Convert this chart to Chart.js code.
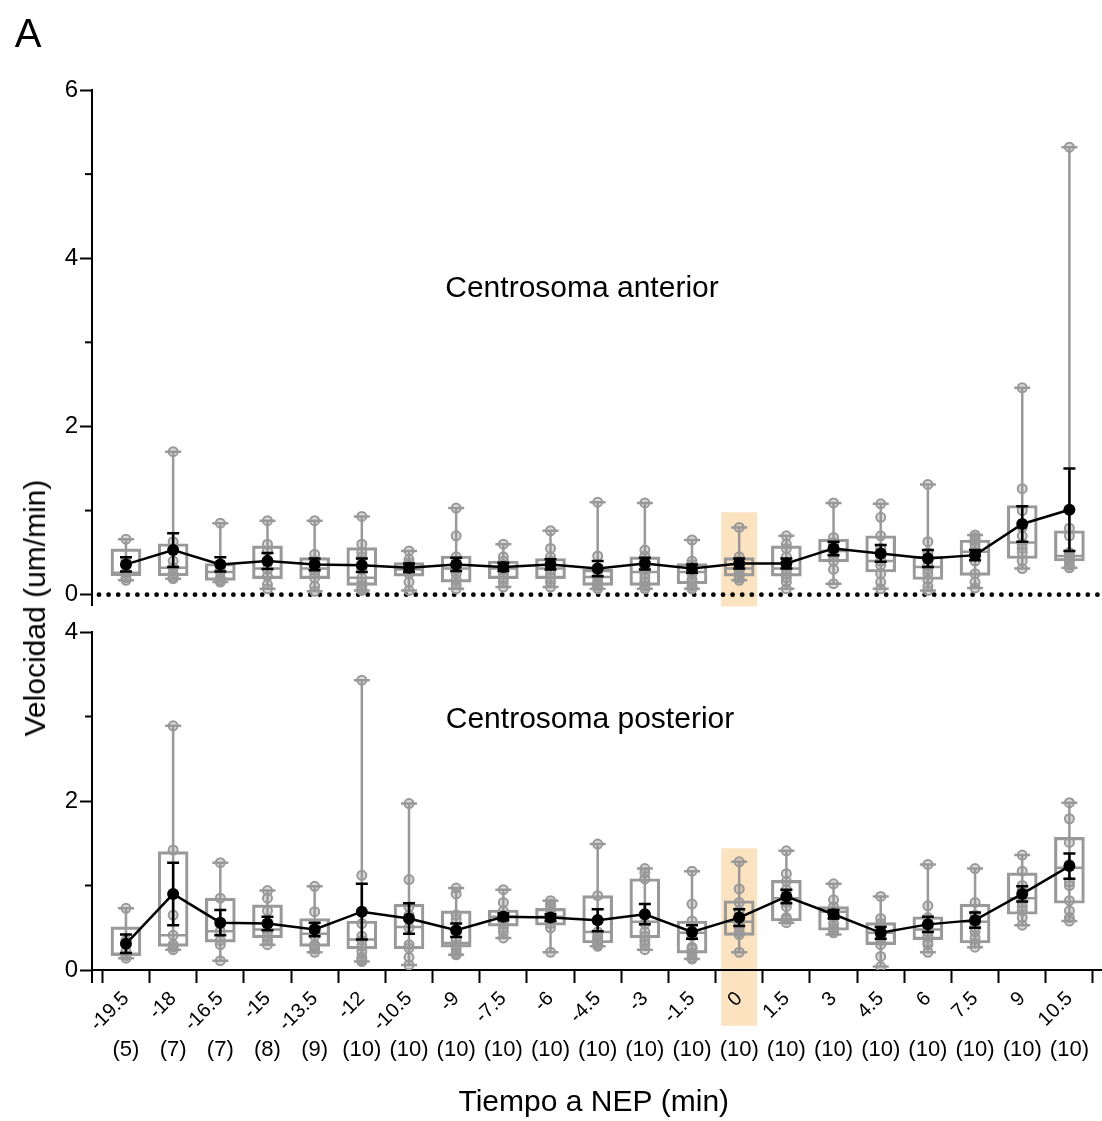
<!DOCTYPE html>
<html>
<head>
<meta charset="utf-8">
<script src="https://cdn.jsdelivr.net/npm/chart.js@4.4.1/dist/chart.umd.min.js"></script>
<style>
body{margin:0;background:#fff;width:1102px;height:1121px;position:relative;overflow:hidden;font-family:"Liberation Sans",Arial,sans-serif}
.wrap{position:absolute;left:0;width:1102px}
#topWrap{top:0;height:622px}
#botWrap{top:600px;height:521px}
.lbl{position:absolute;color:#000;white-space:nowrap;transform:translate(-50%,-50%)}
</style>
</head>
<body>
<div class="wrap" id="topWrap"><canvas id="topChart"></canvas></div>
<div class="wrap" id="botWrap"><canvas id="botChart"></canvas></div>
<div class="lbl" style="left:28px;top:33px;font-size:40px">A</div>
<div class="lbl" style="left:582px;top:287px;font-size:30px">Centrosoma anterior</div>
<div class="lbl" style="left:590px;top:718px;font-size:30px">Centrosoma posterior</div>
<div class="lbl" style="left:35px;top:608px;font-size:30px;transform:translate(-50%,-50%) rotate(-90deg)">Velocidad (um/min)</div>
<script>
// time to NEP (min) and number of cells
const times = [-19.5,-18,-16.5,-15,-13.5,-12,-10.5,-9,-7.5,-6,-4.5,-3,-1.5,0,1.5,3,4.5,6,7.5,9,10.5];
const nCells = [5,7,7,8,9,10,10,10,10,10,10,10,10,10,10,10,10,10,10,10,10];
const highlightAt = 0;

// centrosoma anterior
const antMin = [0.17,0.19,0.15,0.07,0.04,0.05,0.05,0.07,0.09,0.09,0.07,0.07,0.07,0.17,0.07,0.13,0.07,0.05,0.08,0.31,0.32];
const antQ1  = [0.225,0.225,0.17,0.19,0.19,0.11,0.22,0.15,0.19,0.19,0.11,0.11,0.13,0.22,0.22,0.39,0.27,0.18,0.23,0.43,0.40];
const antMed = [0.26,0.32,0.27,0.31,0.31,0.20,0.30,0.31,0.31,0.31,0.21,0.27,0.27,0.31,0.31,0.52,0.40,0.33,0.51,0.62,0.46];
const antQ3  = [0.545,0.605,0.37,0.58,0.44,0.56,0.38,0.46,0.40,0.43,0.30,0.45,0.37,0.44,0.58,0.66,0.70,0.46,0.65,1.06,0.76];
const antMax = [0.66,1.70,0.85,0.88,0.88,0.93,0.52,1.03,0.60,0.76,1.10,1.09,0.65,0.80,0.70,1.09,1.08,1.31,0.71,2.46,5.32];
const antMean = [0.36,0.53,0.36,0.40,0.36,0.35,0.32,0.36,0.33,0.36,0.31,0.37,0.31,0.37,0.37,0.55,0.49,0.43,0.47,0.84,1.01];
const antSem  = [0.085,0.2,0.085,0.095,0.07,0.08,0.05,0.08,0.05,0.06,0.09,0.07,0.05,0.06,0.06,0.08,0.10,0.10,0.06,0.21,0.49];
const antPts = [
  [0.66,0.40,0.26,0.20,0.17],
  [1.70,0.63,0.40,0.32,0.25,0.21,0.19],
  [0.85,0.36,0.30,0.27,0.20,0.17,0.15],
  [0.88,0.60,0.52,0.38,0.30,0.22,0.12,0.07],
  [0.88,0.48,0.40,0.33,0.30,0.25,0.20,0.10,0.04],
  [0.93,0.60,0.50,0.45,0.30,0.20,0.15,0.10,0.07,0.05],
  [0.52,0.42,0.38,0.35,0.32,0.30,0.28,0.25,0.15,0.05],
  [1.03,0.70,0.45,0.38,0.32,0.30,0.25,0.18,0.12,0.07],
  [0.60,0.45,0.40,0.35,0.32,0.30,0.25,0.20,0.15,0.09],
  [0.76,0.55,0.45,0.40,0.35,0.30,0.25,0.20,0.15,0.09],
  [1.10,0.46,0.32,0.28,0.22,0.20,0.15,0.12,0.10,0.07],
  [1.09,0.53,0.46,0.40,0.32,0.25,0.20,0.15,0.10,0.07],
  [0.65,0.40,0.36,0.32,0.28,0.25,0.18,0.14,0.10,0.07],
  [0.80,0.45,0.40,0.35,0.32,0.30,0.28,0.25,0.20,0.17],
  [0.70,0.60,0.55,0.45,0.35,0.30,0.25,0.20,0.15,0.07],
  [1.09,0.68,0.62,0.60,0.55,0.50,0.45,0.40,0.30,0.13],
  [1.08,0.92,0.70,0.55,0.45,0.40,0.35,0.25,0.15,0.07],
  [1.31,0.63,0.50,0.45,0.35,0.30,0.25,0.18,0.10,0.05],
  [0.71,0.68,0.65,0.60,0.55,0.48,0.40,0.25,0.15,0.08],
  [2.46,1.26,1.00,0.80,0.70,0.60,0.55,0.50,0.40,0.31],
  [5.32,0.79,0.70,0.50,0.46,0.45,0.42,0.40,0.35,0.32]
];

// centrosoma posterior
const postMin = [0.14,0.24,0.11,0.30,0.21,0.10,0.06,0.18,0.38,0.21,0.28,0.24,0.13,0.21,0.56,0.42,0.04,0.21,0.27,0.53,0.58];
const postQ1  = [0.17,0.28,0.33,0.38,0.28,0.25,0.25,0.27,0.52,0.53,0.32,0.38,0.20,0.41,0.58,0.47,0.30,0.36,0.32,0.66,0.79];
const postMed = [0.19,0.41,0.46,0.48,0.43,0.36,0.51,0.32,0.63,0.63,0.45,0.57,0.44,0.57,0.85,0.69,0.44,0.48,0.57,0.85,1.21];
const postQ3  = [0.51,1.40,0.85,0.77,0.61,0.58,0.78,0.70,0.71,0.73,0.88,1.08,0.58,0.82,1.06,0.75,0.56,0.63,0.78,1.15,1.57];
const postMax = [0.73,2.89,1.27,0.94,0.99,3.43,1.97,0.97,0.95,0.82,1.49,1.20,1.17,1.28,1.41,1.02,0.87,1.25,1.20,1.36,1.98];
const postMean = [0.31,0.90,0.56,0.55,0.48,0.69,0.61,0.47,0.63,0.62,0.59,0.66,0.45,0.62,0.87,0.66,0.44,0.54,0.59,0.90,1.23];
const postSem  = [0.11,0.37,0.15,0.08,0.08,0.33,0.18,0.08,0.04,0.04,0.13,0.12,0.08,0.10,0.08,0.05,0.07,0.09,0.09,0.09,0.15];
const postPts = [
  [0.73,0.35,0.22,0.17,0.14],
  [2.89,1.42,0.65,0.41,0.30,0.27,0.24],
  [1.27,0.85,0.55,0.46,0.35,0.30,0.11],
  [0.94,0.85,0.70,0.55,0.45,0.40,0.35,0.30],
  [0.99,0.69,0.50,0.45,0.40,0.30,0.28,0.25,0.21],
  [3.43,1.12,0.55,0.40,0.35,0.28,0.22,0.15,0.12,0.10],
  [1.97,1.07,0.75,0.65,0.60,0.50,0.30,0.26,0.15,0.06],
  [0.97,0.90,0.65,0.60,0.45,0.35,0.30,0.25,0.20,0.18],
  [0.95,0.80,0.70,0.65,0.62,0.60,0.55,0.50,0.45,0.38],
  [0.82,0.78,0.75,0.70,0.65,0.62,0.60,0.55,0.50,0.21],
  [1.49,0.88,0.60,0.45,0.40,0.37,0.35,0.32,0.30,0.28],
  [1.20,1.15,1.08,0.65,0.55,0.45,0.40,0.35,0.30,0.24],
  [1.17,0.78,0.58,0.45,0.40,0.27,0.25,0.20,0.15,0.13],
  [1.28,0.96,0.80,0.70,0.60,0.55,0.50,0.45,0.42,0.21],
  [1.41,1.14,1.05,0.95,0.85,0.80,0.75,0.62,0.60,0.56],
  [1.02,0.83,0.75,0.70,0.68,0.62,0.55,0.50,0.47,0.44],
  [0.87,0.61,0.55,0.50,0.45,0.40,0.35,0.30,0.16,0.04],
  [1.25,0.76,0.62,0.55,0.50,0.45,0.40,0.33,0.30,0.21],
  [1.20,0.80,0.65,0.60,0.55,0.50,0.45,0.38,0.32,0.27],
  [1.36,1.17,1.00,0.95,0.90,0.80,0.75,0.70,0.62,0.53],
  [1.98,1.79,1.51,1.25,1.04,1.00,0.82,0.70,0.62,0.58]
];

// axis ticks
const antTicks = [0,2,4,6];
const antMinor = [1,3,5];
const postTicks = [0,2,4];
const postMinor = [1,3];

Chart.defaults.font.family = '"Liberation Sans", Arial, sans-serif';
Chart.defaults.color = '#000';

const gray = '#999999';
const xMin = -20.58, xMax = 11.33;

const boxPlugin = {
  id: 'boxes',
  beforeDraw(chart, args, o) {
    const {ctx, scales: {x, y}} = chart;
    const x0 = x.getPixelForValue(highlightAt - 0.57);
    const x1 = x.getPixelForValue(highlightAt + 0.57);
    const y0 = y.getPixelForValue(o.bandTop);
    const y1 = y.getPixelForValue(o.bandBottom);
    ctx.save();
    ctx.fillStyle = '#fce3c0';
    ctx.fillRect(x0, y0, x1 - x0, y1 - y0);
    ctx.restore();
  },
  beforeDatasetsDraw(chart, args, o) {
    const {ctx, scales: {x, y}} = chart;
    ctx.save();
    // minor ticks
    ctx.strokeStyle = '#000';
    ctx.lineWidth = 2;
    o.minor.forEach(v => {
      const py = y.getPixelForValue(v);
      ctx.beginPath();
      ctx.moveTo(x.left - 7, py);
      ctx.lineTo(x.left, py);
      ctx.stroke();
    });
    if (o.zeroLine) {
      const py = y.getPixelForValue(0);
      ctx.setLineDash([0, 9.6]);
      ctx.lineCap = 'round';
      ctx.lineWidth = 4.8;
      ctx.beginPath();
      ctx.moveTo(x.left + 7, py);
      ctx.lineTo(chart.width, py);
      ctx.stroke();
      ctx.setLineDash([]);
      ctx.lineCap = 'butt';
    } else {
      // x axis runs on to the edge, y axis pokes below it
      ctx.beginPath();
      ctx.moveTo(x.right, y.bottom); ctx.lineTo(chart.width, y.bottom);
      ctx.moveTo(x.left, y.bottom); ctx.lineTo(x.left, y.bottom + 13);
      ctx.stroke();
    }
    // whiskers, caps, medians
    ctx.strokeStyle = gray;
    ctx.lineWidth = 2.5;
    times.forEach((t, i) => {
      const px = x.getPixelForValue(t);
      const pMin = y.getPixelForValue(o.min[i]);
      const pMax = y.getPixelForValue(o.max[i]);
      const pMed = y.getPixelForValue(o.med[i]);
      ctx.beginPath();
      ctx.moveTo(px, pMin); ctx.lineTo(px, pMax);
      ctx.moveTo(px - 8, pMin); ctx.lineTo(px + 8, pMin);
      ctx.moveTo(px - 8, pMax); ctx.lineTo(px + 8, pMax);
      ctx.moveTo(px - 14, pMed); ctx.lineTo(px + 14, pMed);
      ctx.stroke();
    });
    ctx.restore();
  },
  afterDatasetsDraw(chart, args, o) {
    const {ctx, scales: {x, y}} = chart;
    ctx.save();
    ctx.strokeStyle = '#000';
    ctx.lineWidth = 2.5;
    times.forEach((t, i) => {
      const px = x.getPixelForValue(t);
      const hi = y.getPixelForValue(o.mean[i] + o.sem[i]);
      const lo = y.getPixelForValue(o.mean[i] - o.sem[i]);
      ctx.beginPath();
      ctx.moveTo(px, hi); ctx.lineTo(px, lo);
      ctx.moveTo(px - 6, hi); ctx.lineTo(px + 6, hi);
      ctx.moveTo(px - 6, lo); ctx.lineTo(px + 6, lo);
      ctx.stroke();
    });
    ctx.restore();
  }
};

function makeDatasets(q1, q3, pts, mean) {
  const flat = [];
  pts.forEach((list, i) => list.forEach(v => flat.push({x: times[i], y: v})));
  return [
    {
      type: 'line',
      data: times.map((t, i) => ({x: t, y: mean[i]})),
      borderColor: '#000', borderWidth: 2.5,
      pointRadius: 6, pointBackgroundColor: '#000', pointBorderWidth: 0
    },
    {
      type: 'scatter',
      data: flat,
      pointRadius: 4.5, borderColor: gray, borderWidth: 2,
      backgroundColor: 'rgba(153,153,153,0.35)'
    },
    {
      type: 'bar',
      data: times.map((t, i) => ({x: t, y: [q1[i], q3[i]]})),
      barThickness: 30, borderSkipped: false,
      borderColor: gray, borderWidth: 2.5, backgroundColor: 'rgba(0,0,0,0)'
    }
  ];
}

function yScale(min, max, ticks) {
  return {
    type: 'linear', min: min, max: max,
    afterBuildTicks: s => { s.ticks = ticks.map(v => ({value: v})); },
    afterFit: s => { s.width = 92; },
    ticks: {color: '#000', font: {size: 24}, padding: 2},
    grid: {drawOnChartArea: false, drawTicks: true, tickLength: 12, tickWidth: 2, tickColor: '#000'},
    border: {display: true, color: '#000', width: 2}
  };
}

new Chart(document.getElementById('topChart'), {
  type: 'scatter',
  data: {datasets: makeDatasets(antQ1, antQ3, antPts, antMean)},
  options: {
    responsive: true, maintainAspectRatio: false, animation: false, events: [],
    layout: {padding: {top: 90, bottom: 0, left: 0, right: 0}},
    plugins: {
      legend: {display: false}, tooltip: {enabled: false},
      boxes: {min: antMin, max: antMax, med: antMed, mean: antMean, sem: antSem,
              minor: antMinor, zeroLine: true, bandTop: 0.98, bandBottom: -0.14}
    },
    scales: {
      x: {type: 'linear', min: xMin, max: xMax, display: false, offset: false},
      y: yScale(-0.13, 6, antTicks)
    }
  },
  plugins: [boxPlugin]
});

new Chart(document.getElementById('botChart'), {
  type: 'scatter',
  data: {datasets: makeDatasets(postQ1, postQ3, postPts, postMean)},
  options: {
    responsive: true, maintainAspectRatio: false, animation: false, events: [],
    layout: {padding: {top: 32, bottom: 0, left: 0, right: 0}},
    plugins: {
      legend: {display: false}, tooltip: {enabled: false},
      boxes: {min: postMin, max: postMax, med: postMed, mean: postMean, sem: postSem,
              minor: postMinor, zeroLine: false, bandTop: 1.44, bandBottom: -0.66}
    },
    scales: {
      x: {
        type: 'linear', position: 'bottom', min: xMin, max: xMax, offset: false,
        afterBuildTicks: s => { s.ticks = times.map(v => ({value: v})); },
        afterFit: s => { s.height = 62; },
        ticks: {autoSkip: false, minRotation: 45, maxRotation: 45, padding: 4,
                color: '#000', font: {size: 20}, callback: v => String(v)},
        grid: {drawOnChartArea: false, drawTicks: true, tickLength: 13, tickWidth: 2, tickColor: '#000'},
        border: {display: true, color: '#000', width: 2}
      },
      x2: {
        type: 'linear', position: 'bottom', min: xMin, max: xMax, offset: false,
        afterBuildTicks: s => { s.ticks = times.map(v => ({value: v})); },
        afterFit: s => { s.height = 89; },
        ticks: {autoSkip: false, minRotation: 0, maxRotation: 0, padding: 5,
                color: '#000', font: {size: 22}, callback: (v, i) => '(' + nCells[i] + ')'},
        grid: {display: false, drawTicks: false},
        border: {display: false},
        title: {display: true, text: 'Tiempo a NEP (min)', color: '#000', font: {size: 30}, padding: {top: 4, bottom: 0}}
      },
      y: yScale(0, 4, postTicks)
    }
  },
  plugins: [boxPlugin]
});
</script>
</body>
</html>
